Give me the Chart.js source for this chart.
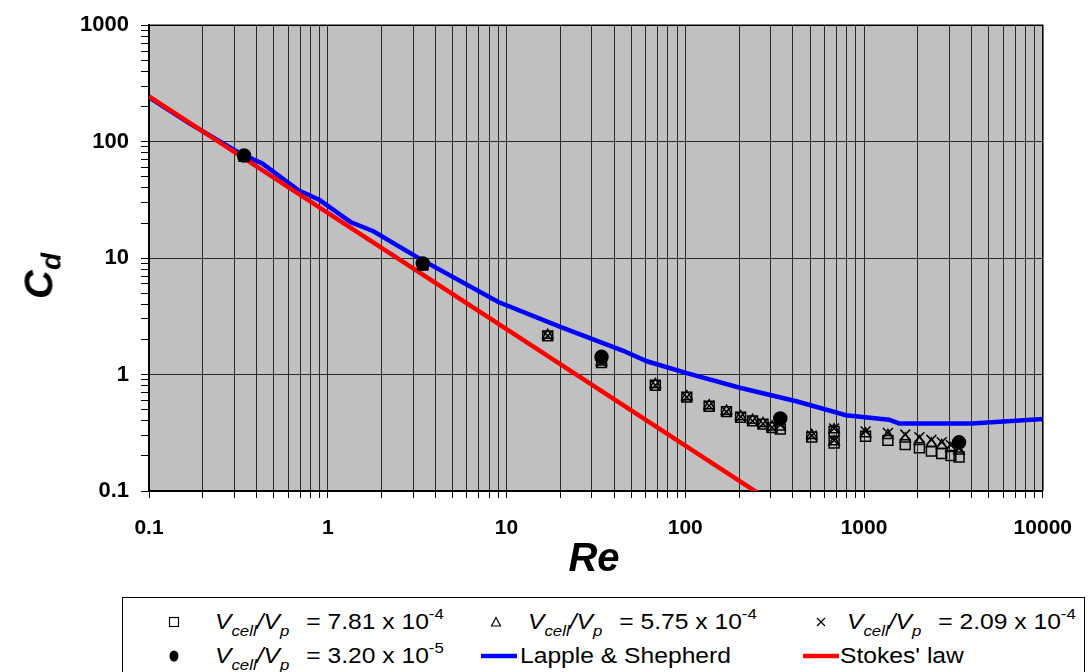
<!DOCTYPE html>
<html>
<head>
<meta charset="utf-8">
<script src="https://cdn.jsdelivr.net/npm/chart.js@4.4.1/dist/chart.umd.min.js"></script>
<style>
  html, body { margin: 0; padding: 0; background: #fff; }
  #wrap { position: relative; width: 1090px; height: 672px; overflow: hidden;
          font-family: "Liberation Sans", Arial, sans-serif; color: #000; }
  #chart { position: absolute; left: 0; top: 0; }
  .axis-title { position: absolute; font-weight: bold; font-style: italic; white-space: nowrap; line-height: 1; }
  #xtitle { left: 594px; top: 557px; font-size: 40px; transform: translate(-50%, -50%); }
  #ytitle { left: 42px; top: 276px; font-size: 40px; transform: translate(-50%, -50%) rotate(-90deg); }
  #ytitle sub { font-size: 28px; vertical-align: -8px; }
  #legend { position: absolute; left: 122px; top: 597px; width: 963px; height: 100px;
            border: 1px solid #000; box-sizing: border-box; background: #fff; }
  .item { position: absolute; display: flex; align-items: center; white-space: nowrap;
          font-size: 22px; line-height: 1; transform: translateY(-50%); }
  .item.txt { transform: translateY(-50%) scaleX(1.12); transform-origin: 0 50%; }
  .item svg { display: block; }
  .item i { font-style: italic; }
  .item sub { font-size: 15px; vertical-align: -7px; font-style: italic; }
  .item sup { font-size: 15px; vertical-align: 10px; }
  .gap { display: inline-block; width: 9px; }
</style>
</head>
<body>
<div id="wrap">
  <canvas id="chart" width="1090" height="672"></canvas>
  <div id="xtitle" class="axis-title">Re</div>
  <div id="ytitle" class="axis-title">C<sub>d</sub></div>
  <div id="legend"></div>
</div>
<script>
// Axis tick labels (decades only)
const xTickLabels = ['0.1', '1', '10', '100', '1000', '10000'];
const yTickLabels = ['0.1', '1', '10', '100', '1000'];

// Measured drag coefficients for the different cell/particle volume ratios
const reMeasured = [0.34, 3.4, 17, 34, 68, 102, 136, 170, 204, 238, 272, 306, 340, 510, 680, 680, 1020, 1360, 1700, 2040, 2380, 2720, 3060, 3400];
const cdSquare   = [75, 8.7, 2.15, 1.27, 0.81, 0.64, 0.535, 0.48, 0.43, 0.40, 0.375, 0.35, 0.34, 0.29, 0.325, 0.258, 0.295, 0.272, 0.25, 0.235, 0.22, 0.21, 0.202, 0.196];
const cdTriangle = [75, 8.7, 2.17, 1.28, 0.82, 0.645, 0.54, 0.485, 0.435, 0.405, 0.38, 0.355, 0.355, 0.30, 0.335, 0.265, 0.31, 0.30, 0.28, 0.266, 0.254, 0.246, 0.232, 0.22];
const cdCross    = [75, 8.7, 2.15, 1.28, 0.81, 0.64, 0.54, 0.48, 0.435, 0.40, 0.378, 0.352, 0.37, 0.30, 0.345, 0.272, 0.325, 0.315, 0.305, 0.29, 0.275, 0.262, 0.248, 0.232];
const reCircle   = [0.34, 3.4, 34, 340, 3400];
const cdCircle   = [76, 9.0, 1.42, 0.42, 0.262];

// Standard drag curve (Lapple & Shepherd)
const reLapple = [0.1, 0.17, 0.32, 0.43, 0.68, 0.9, 1.35, 1.8, 3.3, 9, 20, 45, 61, 102, 202, 418, 793, 1380, 1570, 4000, 6700, 11000];
const cdLapple = [240, 142, 80, 65, 38.5, 31.5, 20.3, 17.0, 9.8, 4.2, 2.57, 1.6, 1.30, 1.03, 0.77, 0.59, 0.448, 0.409, 0.38, 0.38, 0.40, 0.42];

// Stokes' law line
const reStokes = [0.1, 1, 10, 100, 300];
const cdStokes = [245, 24.5, 2.45, 0.245, 0.0817];

// Legend texts for the volume ratios
const ratioValues = ['7.81', '5.75', '2.09', '3.20'];
const ratioExps   = ['-4', '-4', '-4', '-5'];

const toPoints = (xs, ys) => xs.map((x, i) => ({ x: x, y: ys[i] }));
const isDecade = v => Math.abs(Math.log10(v) - Math.round(Math.log10(v))) < 1e-6;
const decadeLabel = (v, labels, minExp) => labels[Math.round(Math.log10(v)) - minExp];

// Tick marks at 1..9 x 10^n
function logTicks(min, max) {
  const out = [];
  for (let e = Math.round(Math.log10(min)); e <= Math.round(Math.log10(max)); e++) {
    for (let m = 1; m <= 9; m++) {
      const v = parseFloat((m * Math.pow(10, e)).toPrecision(6));
      if (v >= min * 0.9999 && v <= max * 1.0001) out.push({ value: v });
    }
  }
  return out;
}

// Grey plot area and the top/right frame lines
const plotFrame = {
  id: 'plotFrame',
  beforeDraw(chart) {
    const { ctx, chartArea: a } = chart;
    ctx.save();
    ctx.fillStyle = '#c0c0c0';
    ctx.fillRect(a.left, a.top, a.right - a.left, a.bottom - a.top);
    ctx.restore();
  },
  afterDatasetsDraw(chart) {
    const { ctx, chartArea: a } = chart;
    ctx.save();
    ctx.strokeStyle = '#000';
    ctx.lineWidth = 1.5;
    ctx.beginPath();
    ctx.moveTo(a.left, a.top);
    ctx.lineTo(a.right, a.top);
    ctx.lineTo(a.right, a.bottom);
    ctx.stroke();
    ctx.restore();
  }
};

const markerBase = { showLine: false, borderColor: '#000', borderWidth: 1.5, pointBorderWidth: 1.5 };

const chart = new Chart(document.getElementById('chart'), {
  type: 'scatter',
  data: {
    datasets: [
      { ...markerBase, label: 'square', data: toPoints(reMeasured, cdSquare), pointStyle: 'rect', pointRadius: 7,
        backgroundColor: 'rgba(0,0,0,0)', order: 1 },
      { ...markerBase, label: 'triangle', data: toPoints(reMeasured, cdTriangle), pointStyle: 'triangle', pointRadius: 6,
        backgroundColor: 'rgba(0,0,0,0)', order: 2 },
      { ...markerBase, label: 'cross', data: toPoints(reMeasured, cdCross), pointStyle: 'crossRot', pointRadius: 7,
        backgroundColor: 'rgba(0,0,0,0)', order: 3 },
      { ...markerBase, label: 'circle', data: toPoints(reCircle, cdCircle), pointStyle: 'circle', pointRadius: 6.5,
        backgroundColor: '#000', order: 0 },
      { label: 'Lapple & Shepherd', data: toPoints(reLapple, cdLapple), showLine: true, borderColor: '#0000ff',
        borderWidth: 4.5, pointRadius: 0, tension: 0, order: 6 },
      { label: "Stokes' law", data: toPoints(reStokes, cdStokes), showLine: true, borderColor: '#ff0000',
        borderWidth: 4.5, pointRadius: 0, tension: 0, order: 5 }
    ]
  },
  options: {
    responsive: false,
    animation: false,
    devicePixelRatio: 1,
    layout: { padding: { top: 20, right: 42, left: 0, bottom: 0 } },
    plugins: { legend: { display: false }, tooltip: { enabled: false } },
    scales: {
      x: {
        type: 'logarithmic', position: 'bottom', min: 0.1, max: 10000,
        afterBuildTicks: s => { s.ticks = logTicks(0.1, 10000); },
        afterFit: s => { s.height = 181; },
        border: { display: true, color: '#000', width: 2 },
        grid: { color: '#2a2a2a', lineWidth: 1, drawTicks: true, tickLength: 7, tickColor: '#000' },
        ticks: {
          autoSkip: false, maxRotation: 0, padding: 18, color: '#000',
          font: { family: 'Liberation Sans', size: 21, weight: 'bold' },
          callback: v => isDecade(v) ? decadeLabel(v, xTickLabels, -1) : ''
        }
      },
      y: {
        type: 'logarithmic', position: 'left', min: 0.1, max: 1000,
        afterBuildTicks: s => { s.ticks = logTicks(0.1, 1000); },
        afterFit: s => { s.width = 149; },
        border: { display: true, color: '#000', width: 2 },
        grid: {
          color: c => (c.tick && isDecade(c.tick.value)) ? '#2a2a2a' : 'rgba(0,0,0,0)',
          lineWidth: 1, drawTicks: true, tickLength: 8, tickColor: '#000'
        },
        ticks: {
          autoSkip: false, padding: 12, color: '#000',
          font: { family: 'Liberation Sans', size: 22, weight: 'bold' },
          callback: v => isDecade(v) ? decadeLabel(v, yTickLabels, -1) : ''
        }
      }
    }
  },
  plugins: [plotFrame]
});

// Legend built from the datasets
const legendEl = document.getElementById('legend');
const box = { left: 122, top: 597 };
const slots = [
  { ds: 0, mx: 173, tx: 214, y: 621 },
  { ds: 1, mx: 495, tx: 527, y: 621 },
  { ds: 2, mx: 820, tx: 846, y: 621 },
  { ds: 3, mx: 173, tx: 214, y: 655 },
  { ds: 4, mx: 480, tx: 519, y: 655 },
  { ds: 5, mx: 802, tx: 839, y: 655 }
];
function markerSvg(ds) {
  const style = ds.pointStyle;
  if (!style || ds.showLine) {
    return '<svg width="36" height="8"><line x1="1" y1="4" x2="35" y2="4" stroke="' + ds.borderColor +
      '" stroke-width="4.5" stroke-linecap="round"/></svg>';
  }
  const s = '<svg width="14" height="14" viewBox="0 0 14 14">';
  if (style === 'rect') return s + '<rect x="2.5" y="2.5" width="9" height="9" fill="none" stroke="#000" stroke-width="1.2"/></svg>';
  if (style === 'triangle') return s + '<polygon points="7,2.5 11.5,11 2.5,11" fill="none" stroke="#000" stroke-width="1.2"/></svg>';
  if (style === 'crossRot') return s + '<path d="M3,3 L11,11 M11,3 L3,11" stroke="#000" stroke-width="1.2"/></svg>';
  return s + '<ellipse cx="7" cy="7" rx="4.5" ry="5.5" fill="#000"/></svg>';
}
slots.forEach(sl => {
  const ds = chart.data.datasets[sl.ds];
  const mk = document.createElement('div');
  mk.className = 'item';
  mk.style.left = (sl.mx - box.left - (ds.showLine ? 0 : 7)) + 'px';
  mk.style.top = (sl.y - box.top) + 'px';
  mk.innerHTML = markerSvg(ds);
  legendEl.appendChild(mk);
  const tx = document.createElement('div');
  tx.className = 'item txt';
  tx.style.left = (sl.tx - box.left) + 'px';
  tx.style.top = (sl.y - box.top) + 'px';
  if (ds.showLine) {
    tx.textContent = ds.label;
  } else {
    tx.innerHTML = '<span><i>V</i><sub>cell</sub><i>/V</i><sub>p</sub><span class="gap"></span> = ' + ratioValues[sl.ds] +
      ' x 10<sup>' + ratioExps[sl.ds] + '</sup></span>';
  }
  legendEl.appendChild(tx);
});
</script>
</body>
</html>
